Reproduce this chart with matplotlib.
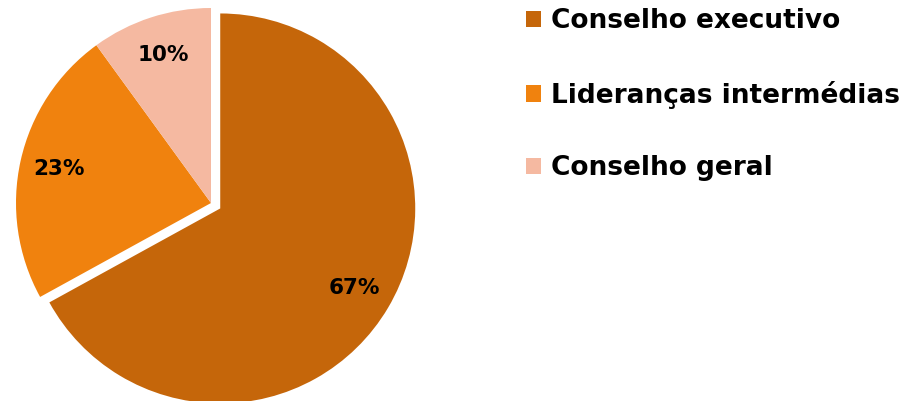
import matplotlib
matplotlib.use("Agg")
import matplotlib.pyplot as plt

categories = ["Conselho executivo", "Lideranças intermédias", "Conselho geral"]
values = [67, 23, 10]
colors = ["#C5660A", "#F0820E", "#F5B9A1"]
explode = [0.055, 0, 0]

plt.rcParams['font.family'] = ['DejaVu Sans']

W, H = 921, 401
fig = plt.figure(figsize=(W / 100, H / 100), dpi=100)
ax = fig.add_axes([0, 0, 1, 1])

R = 195.0
cx, cy = 211.0, 401 - 203.0

wedges, texts, autotexts = ax.pie(
    values, colors=colors, explode=explode, startangle=90, counterclock=False,
    autopct=lambda p: f"{p:.0f}%", pctdistance=0.8, radius=1.0,
    wedgeprops=dict(linewidth=0),
    textprops=dict(fontsize=15.5, fontweight='bold', color='black'))

ax.set_aspect('auto')
ax.set_xlim(-cx / R, (W - cx) / R)
ax.set_ylim(-cy / R, (H - cy) / R)
ax.axis('off')

leg = fig.legend(wedges, categories, loc='upper left',
                 bbox_to_anchor=(521 / W, 1 - 3 / H),
                 frameon=False, prop=dict(size=19, weight='bold'),
                 handlelength=0.57, handleheight=0.57, handletextpad=0.38,
                 labelspacing=1.76, borderaxespad=0, borderpad=0.2)

fig.savefig("out.png", dpi=100)
